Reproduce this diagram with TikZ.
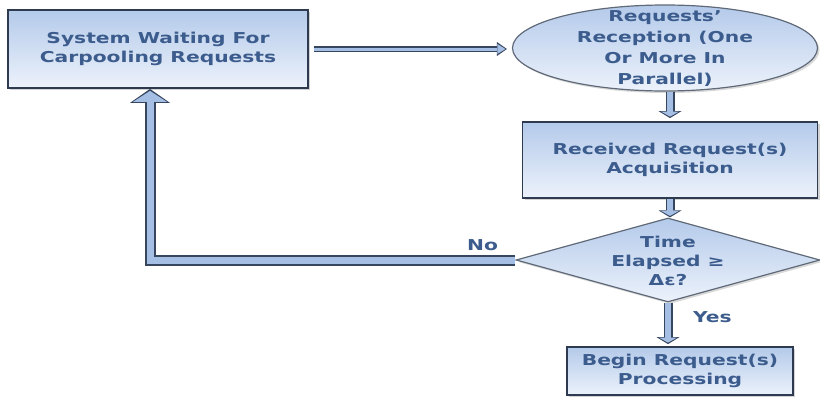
\documentclass[tikz,border=0pt]{standalone}
\usepackage{fontspec}
\usepackage{tikz}
\usetikzlibrary{shapes.geometric,arrows.meta,shadows}
\newfontfamily\flowfont[FakeStretch=1.35]{DejaVu Sans}

\definecolor{txtblue}{RGB}{59,92,140}
\definecolor{edgeblue}{RGB}{45,58,80}
\definecolor{edgegray}{RGB}{95,105,120}
\definecolor{boxtop}{RGB}{180,202,234}
\definecolor{boxbottom}{RGB}{236,242,251}
\definecolor{arrowfill}{RGB}{165,190,228}
\definecolor{arrowedge}{RGB}{55,70,95}

\begin{document}
\begin{tikzpicture}
[
x = 1pt, y = -1pt,
flowtext/.style = {font = \flowfont\bfseries\fontsize{15}{19}\selectfont, text = txtblue, align = center, inner sep = 0pt},
procbox/.style = {flowtext, draw = edgeblue, line width = 1.8pt, top color = boxtop, bottom color = boxbottom,
  drop shadow = {shadow xshift = 2pt, shadow yshift = -2pt, opacity = .35}},
roundbox/.style = {draw = edgegray, line width = 1.2pt, top color = boxtop, bottom color = boxbottom, inner sep = 0pt,
  drop shadow = {shadow xshift = 2pt, shadow yshift = -2pt, opacity = .3}},
thinflow/.style = {draw = arrowfill, line width = 3pt, shorten > = 1.5pt,
  -{Triangle[length = 8pt, width = 10pt, line width = 0pt]},
  preaction = {draw = arrowedge, line width = 5.5pt, shorten > = 0pt, -{Triangle[length = 10pt, width = 14pt, line width = 0pt]}}},
midflow/.style = {draw = arrowfill, line width = 6pt, shorten > = 1.5pt,
  -{Triangle[length = 5pt, width = 18pt, line width = 0pt]},
  preaction = {draw = arrowedge, line width = 9pt, shorten > = 0pt, -{Triangle[length = 7pt, width = 23pt, line width = 0pt]}}},
wideflow/.style = {draw = arrowfill, line width = 7pt, shorten > = 2pt, line join = miter,
  -{Triangle[length = 11pt, width = 34pt, line width = 0pt]},
  preaction = {draw = arrowedge, line width = 11pt, shorten > = 0pt, line join = miter, -{Triangle[length = 14pt, width = 40pt, line width = 0pt]}}},
]

\useasboundingbox (0,0) rectangle (820,397);

% boxes
\node (wait) at (158,49) [procbox, minimum width = 300pt, minimum height = 78pt] {System Waiting For\\Carpooling Requests};

\node (recv) at (665,48) [ellipse, roundbox, minimum width = 305pt, minimum height = 86pt] {};
\node (recvtxt) at (665,49) [flowtext, font = \flowfont\bfseries\fontsize{15}{21}\selectfont] {Requests’\\Reception (One\\Or More In\\Parallel)};

\node (acq) at (670,160) [procbox, minimum width = 295pt, minimum height = 76pt] {Received Request(s)\\Acquisition};

\node (elapsed) at (668,260) [diamond, roundbox, minimum width = 304pt, minimum height = 84pt] {};
\node (elapsedtxt) at (668,261) [flowtext] {Time\\Elapsed ≥\\Δε?};

\node (begin) at (680,371) [procbox, minimum width = 226pt, minimum height = 48pt] {Begin Request(s)\\Processing};

% connectors
\coordinate (waitout) at ([xshift = 5pt]wait.east);
\coordinate (recvin) at ([xshift = -5pt]recv.west);
\draw [thinflow] (waitout) -- (recvin |- waitout);
\draw [midflow] (acq.north |- recv.south) -- ([yshift = 3pt]acq.north);
\draw [midflow] (acq.south) -- (acq.south |- elapsed.north);
\draw [midflow] (elapsed.south) -- ([yshift = 2pt]elapsed.south |- begin.north)
  node (yes) [flowtext, pos = 0.35, anchor = west, xshift = 22pt] {Yes};
\draw [wideflow] (elapsed.west) -| ([xshift = -8pt]wait.south)
  node (no) [flowtext, pos = 0.045, above = 6pt] {No};
\end{tikzpicture}
\end{document}
